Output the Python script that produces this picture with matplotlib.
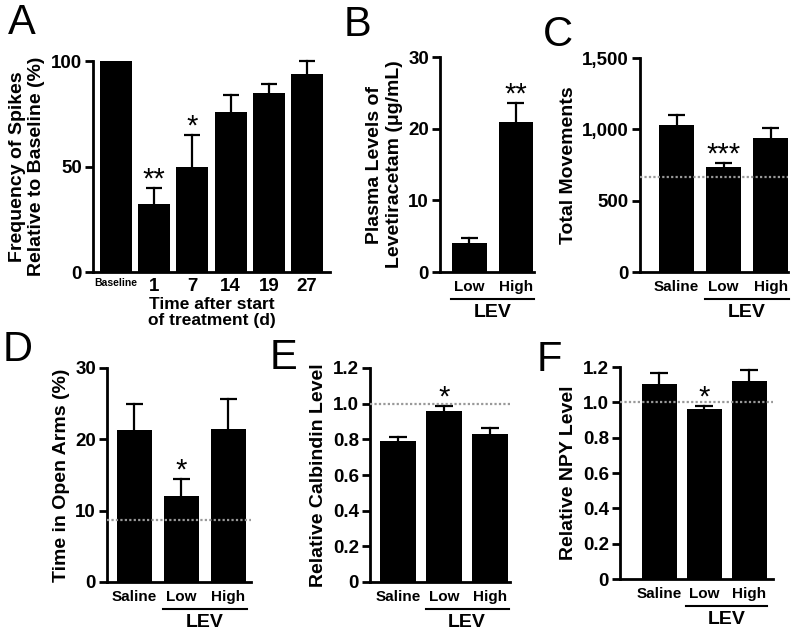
import matplotlib
matplotlib.use('Agg')
from matplotlib import pyplot as plt
from matplotlib.ticker import FuncFormatter

plt.rcParams['font.family'] = ['Liberation Sans', 'DejaVu Sans']
plt.rcParams['font.weight'] = 'bold'
plt.rcParams['axes.labelweight'] = 'bold'

# ---------------- data ------------------
a_labels = ['Baseline', '1', '7', '14', '19', '27']
a_mean = [100, 32, 50, 76, 85, 94]
a_err = [0, 8, 15, 8, 4, 6]
a_stars = ['', '**', '*', '', '', '']

b_labels = ['Low', 'High']
b_mean = [4.0, 20.9]
b_err = [0.7, 2.7]
b_stars = ['', '**']

dose_labels = ['Saline', 'Low', 'High']

c_mean = [1033, 734, 942]
c_err = [67, 28, 67]
c_stars = ['', '***', '']
c_ref = 668

d_mean = [21.3, 12.1, 21.5]
d_err = [3.6, 2.3, 4.2]
d_stars = ['', '*', '']
d_ref = 8.7

e_mean = [0.79, 0.96, 0.83]
e_err = [0.025, 0.025, 0.035]
e_stars = ['', '*', '']
e_ref = 1.0

f_mean = [1.105, 0.965, 1.12]
f_err = [0.06, 0.015, 0.065]
f_stars = ['', '*', '']
f_ref = 1.0

W, H = 796, 633
fig = plt.figure(figsize=(W / 100, H / 100), dpi=100)


def make_ax(x0, x1, ytop, ybot):
    # pixel box -> figure fraction
    return fig.add_axes([x0 / W, 1 - ybot / H, (x1 - x0) / W, (ybot - ytop) / H])


def bar_panel(ax, labels, mean, err, stars, ylim, yticks, xlim, width, ylabel, ref=None):
    x = list(range(len(mean)))
    ax.bar(x, mean, width, color='black', zorder=2)
    # upward error bars only (Prism style)
    for xi, m, e in zip(x, mean, err):
        if e > 0:
            ax.plot([xi, xi], [m, m + e], color='black', lw=1.6, zorder=3, clip_on=False)
            ax.plot([xi - width / 4, xi + width / 4], [m + e, m + e], color='black', lw=1.6,
                    zorder=3, clip_on=False, solid_capstyle='butt')
    if ref is not None:
        ax.axhline(ref, color='#999999', ls=(0, (1, 1)), lw=1.6, zorder=4)
    for xi, m, e, s in zip(x, mean, err, stars):
        if s:
            ax.annotate(s, (xi, m + e), xytext=(0, -4), textcoords='offset points',
                        ha='center', va='bottom', fontsize=21, fontweight='normal')
    ax.set_xlim(*xlim)
    ax.set_ylim(*ylim)
    ax.set_yticks(yticks)
    ax.set_xticks(x)
    ax.set_xticklabels(labels)
    for s in ['top', 'right']:
        ax.spines[s].set_visible(False)
    for s in ['left', 'bottom']:
        ax.spines[s].set_linewidth(2)
    ax.tick_params(axis='y', length=6, width=2, labelsize=13.5, pad=2)
    ax.tick_params(axis='x', length=0, labelsize=11, pad=6)
    ax.set_ylabel(ylabel, fontsize=14)


def lev_line(ax, x_from, x_to, px_h):
    trans = ax.get_xaxis_transform()
    y_line = -27 / px_h
    ax.plot([x_from - 0.4, x_to + 0.4], [y_line, y_line], color='black', lw=1.5,
            transform=trans, clip_on=False)
    ax.text((x_from + x_to) / 2, y_line - 5 / px_h, 'LEV', transform=trans,
            ha='center', va='top', fontsize=14)


# ---- A ----
axA = make_ax(93, 330, 61, 272)
bar_panel(axA, a_labels, a_mean, a_err, a_stars, (0, 100), [0, 50, 100], (-0.6, 5.6), 0.84,
          'Frequency of Spikes\nRelative to Baseline (%)')
axA.tick_params(axis='x', labelsize=13.5, pad=4)
axA.get_xticklabels()[0].set_fontsize(7.5)
axA.set_xlabel('Time after start\nof treatment (d)', fontsize=12.5, labelpad=2, linespacing=1.05)

# ---- B ----
axB = make_ax(440, 534, 57, 272)
bar_panel(axB, b_labels, b_mean, b_err, b_stars, (0, 30), [0, 10, 20, 30], (-0.63, 1.39), 0.74,
          'Plasma Levels of\nLevetiracetam (\u03bcg/mL)')
lev_line(axB, 0, 1, 215)

# ---- C ----
axC = make_ax(640, 788, 58, 272)
bar_panel(axC, dose_labels, c_mean, c_err, c_stars, (0, 1500), [0, 500, 1000, 1500],
          (-0.78, 2.37), 0.74, 'Total Movements', ref=c_ref)
axC.yaxis.set_major_formatter(FuncFormatter(lambda v, p: f'{int(v):,}'))
lev_line(axC, 1, 2, 214)

# ---- D ----
axD = make_ax(107, 251, 368, 582)
bar_panel(axD, dose_labels, d_mean, d_err, d_stars, (0, 30), [0, 10, 20, 30],
          (-0.585, 2.48), 0.75, 'Time in Open Arms (%)', ref=d_ref)
lev_line(axD, 1, 2, 214)

# ---- E ----
axE = make_ax(370, 510, 368, 582)
bar_panel(axE, dose_labels, e_mean, e_err, e_stars, (0, 1.2), [0, 0.2, 0.4, 0.6, 0.8, 1.0, 1.2],
          (-0.61, 2.43), 0.78, 'Relative Calbindin Level', ref=e_ref)
lev_line(axE, 1, 2, 214)

# ---- F ----
axF = make_ax(620, 773, 367, 579)
bar_panel(axF, dose_labels, f_mean, f_err, f_stars, (0, 1.2), [0, 0.2, 0.4, 0.6, 0.8, 1.0, 1.2],
          (-0.87, 2.53), 0.78, 'Relative NPY Level', ref=f_ref)
lev_line(axF, 1, 2, 212)

fmt01 = FuncFormatter(lambda v, p: '0' if v == 0 else f'{v:.1f}')
axE.yaxis.set_major_formatter(fmt01)
axF.yaxis.set_major_formatter(fmt01)

# panel letters
for letter, px, py in [('A', 8, 3), ('B', 344, 5), ('C', 543, 15), ('D', 3, 330),
                       ('E', 270, 338), ('F', 537, 340)]:
    fig.text(px / W, 1 - py / H, letter, fontsize=30, fontweight='normal', va='top', ha='left')

fig.savefig('out.png', dpi=100)
